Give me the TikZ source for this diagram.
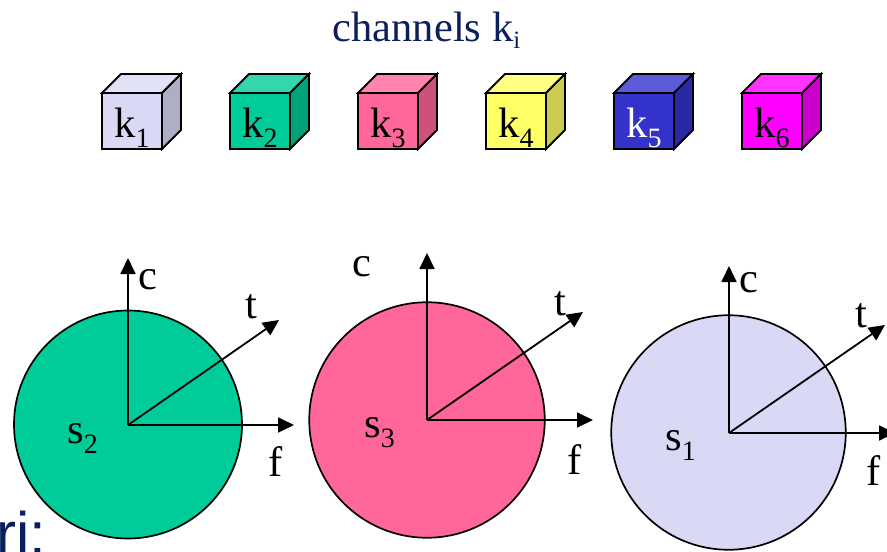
\documentclass[tikz,border=0pt]{standalone}
\usepackage{fontspec}
\setmainfont{Liberation Serif}
\newfontfamily\rifont{Liberation Sans}
\usetikzlibrary{arrows.meta}
\definecolor{navytext}{HTML}{0B1F5E}
\definecolor{cA}{HTML}{D9D9F5}
\definecolor{cB}{HTML}{00CC99}
\definecolor{cC}{HTML}{FF6699}
\definecolor{cD}{HTML}{FFFF66}
\definecolor{cE}{HTML}{3333CC}
\definecolor{cF}{HTML}{FF00FF}
\tikzset{
  x=1pt,y=-1pt,
  axis/.style={line width=1.8pt,-{Triangle[length=16pt,width=15pt]}},
  disc/.style={circle,draw=black,line width=1.7pt,inner sep=0pt,outer sep=0pt},
  lbl/.style={font=\fontsize{42.5}{42.5}\selectfont,inner sep=0pt,anchor=base},
  cubeedge/.style={draw=black,line width=1.8pt,line join=miter},
}
\newcommand{\subs}[1]{\raisebox{-10pt}{\fontsize{28}{28}\selectfont #1}}
\newcommand{\cubeat}[4]{% x, colour, text colour, index
  \path[cubeedge,fill=#2!80!white] (#1,93) -- (#1+19,74) -- (#1+79,74) -- (#1+60,93) -- cycle;
  \path[cubeedge,fill=#2!80!black] (#1+60,93) -- (#1+79,74) -- (#1+79,130) -- (#1+60,149) -- cycle;
  \node[cubeedge,fill=#2,minimum width=60pt,minimum height=56pt,inner sep=0pt,outer sep=0pt,anchor=north west] (cube#4) at (#1,93) {};
  \node[lbl,text=#3] (cubelabel#4) at (#1+30,137) {k\subs{#4}};
}
\begin{document}
\begin{tikzpicture}
\useasboundingbox (0,0) rectangle (887,552);
\clip (0,0) rectangle (887,552);
\node[lbl,text=navytext] (title) at (426.5,41) {channels k\raisebox{-7pt}{\fontsize{25}{25}\selectfont i}};
\cubeat{102}{cA}{black}{1}
\cubeat{230}{cB}{black}{2}
\cubeat{358}{cC}{black}{3}
\cubeat{486}{cD}{black}{4}
\cubeat{614}{cE}{white}{5}
\cubeat{742}{cF}{black}{6}

\node[disc,fill=cB,minimum size=228pt] (d2) at (128,424.5) {};
\coordinate (o2) at (128,425);
\coordinate (c2) at (128,258);
\coordinate (t2) at (279,320);
\coordinate (f2) at (294,425);
\draw[axis] (o2) -- (c2);
\draw[axis] (o2) -- (t2);
\draw[axis] (o2) -- (f2);
\node[lbl] (lc2) at (148,289) {c};
\node[lbl] (lt2) at (251,318) {t};
\node[lbl] (lf2) at (276,476) {f};
\node[lbl] (ls2) at (82.5,443) {s\subs{2}};

\node[disc,fill=cC,minimum size=235.5pt] (d3) at (427,420) {};
\coordinate (o3) at (427,420);
\coordinate (c3) at (427,253);
\coordinate (t3) at (583,312);
\coordinate (f3) at (593,420);
\draw[axis] (o3) -- (c3);
\draw[axis] (o3) -- (t3);
\draw[axis] (o3) -- (f3);
\node[lbl] (lc3) at (362,276) {c};
\node[lbl] (lt3) at (560,315) {t};
\node[lbl] (lf3) at (575,474) {f};
\node[lbl] (ls3) at (379.5,437) {s\subs{3}};

\node[disc,fill=cA,minimum size=234.5pt] (d1) at (728.5,432.5) {};
\coordinate (o1) at (729,433);
\coordinate (c1) at (729,266);
\coordinate (t1) at (885,325);
\coordinate (f1) at (895,433);
\draw[axis] (o1) -- (c1);
\draw[axis] (o1) -- (t1);
\draw[axis] (o1) -- (f1);
\node[lbl] (lc1) at (748.5,292) {c};
\node[lbl] (lt1) at (861.5,327) {t};
\node[lbl] (lf1) at (874,485) {f};
\node[lbl] (ls1) at (680.5,450) {s\subs{1}};

\node[inner sep=0pt,anchor=base west,text=navytext,font={\rifont\fontsize{60}{60}\selectfont}] (ri) at (-4,554) {ri:};
\end{tikzpicture}
\end{document}
